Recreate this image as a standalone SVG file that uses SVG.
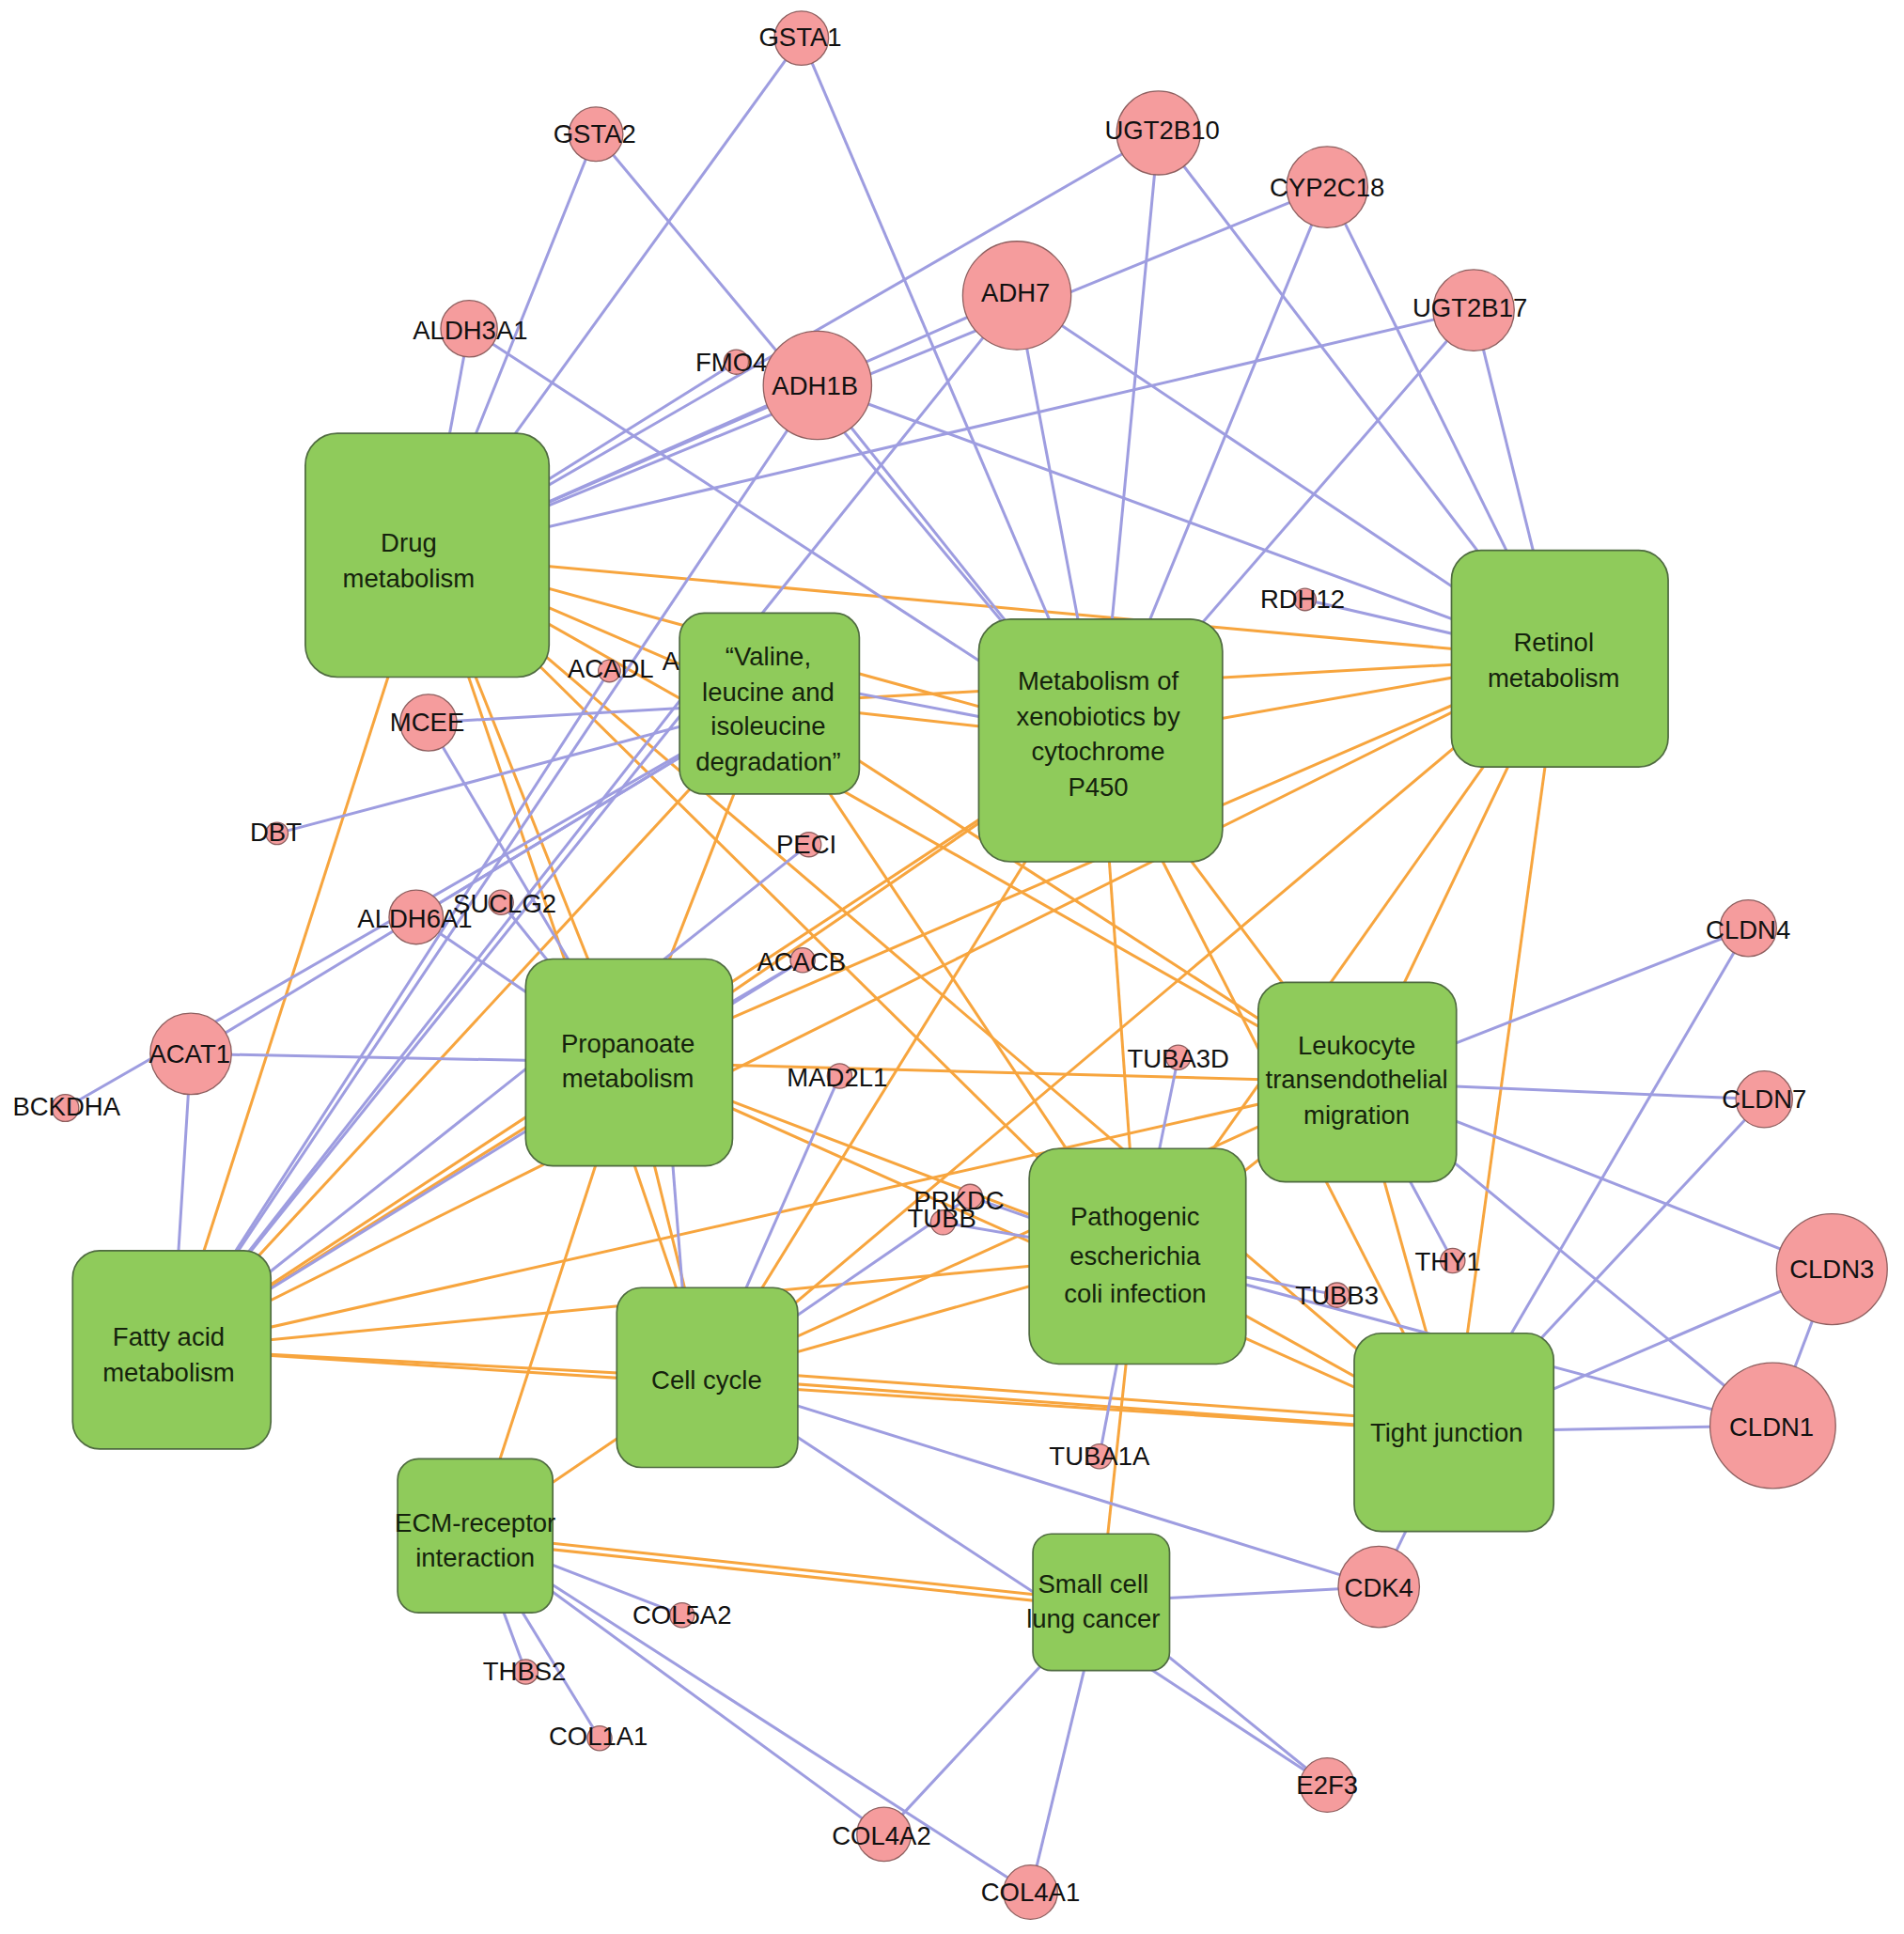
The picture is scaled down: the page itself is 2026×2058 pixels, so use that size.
<svg xmlns="http://www.w3.org/2000/svg" width="2026" height="2058" viewBox="0 0 2026 2058">
<style>
.b{stroke:#9e9de0;stroke-width:2.3;fill:none}
.o{stroke:#f7a53e;stroke-width:2.3;fill:none}
.box{fill:#8fcb5b;stroke:#4f6b40;stroke-width:1.3}
.gene{fill:#f59c9d;stroke:#8e5f5f;stroke-width:1}
.bt{font-family:"Liberation Sans",Arial,sans-serif;font-size:21px;fill:#15230d;text-anchor:middle;dominant-baseline:central}
.gt{font-family:"Liberation Sans",Arial,sans-serif;font-size:21px;fill:#111;text-anchor:middle;dominant-baseline:central}
</style>
<rect width="2026" height="2058" fill="#ffffff"/>
<g transform="scale(1.31)">
<g id="connectors">
<g id="pathway-links">
<line class="o" x1="347" y1="451" x2="1267" y2="535"/>
<line class="o" x1="347" y1="451" x2="894" y2="601"/>
<line class="o" x1="347" y1="451" x2="625" y2="571"/>
<line class="o" x1="347" y1="451" x2="1102" y2="879"/>
<line class="o" x1="347" y1="451" x2="924" y2="1020"/>
<line class="o" x1="347" y1="451" x2="1181" y2="1163"/>
<line class="o" x1="347" y1="451" x2="511" y2="863"/>
<line class="o" x1="347" y1="451" x2="574" y2="1119"/>
<line class="o" x1="347" y1="451" x2="140" y2="1096"/>
<line class="o" x1="625" y1="571" x2="894" y2="601"/>
<line class="o" x1="625" y1="571" x2="1267" y2="535"/>
<line class="o" x1="625" y1="571" x2="511" y2="863"/>
<line class="o" x1="625" y1="571" x2="140" y2="1096"/>
<line class="o" x1="625" y1="571" x2="1102" y2="879"/>
<line class="o" x1="625" y1="571" x2="924" y2="1020"/>
<line class="o" x1="894" y1="601" x2="1267" y2="535"/>
<line class="o" x1="894" y1="601" x2="511" y2="863"/>
<line class="o" x1="894" y1="601" x2="140" y2="1096"/>
<line class="o" x1="894" y1="601" x2="574" y2="1119"/>
<line class="o" x1="894" y1="601" x2="1102" y2="879"/>
<line class="o" x1="894" y1="601" x2="924" y2="1020"/>
<line class="o" x1="894" y1="601" x2="1181" y2="1163"/>
<line class="o" x1="1267" y1="535" x2="511" y2="863"/>
<line class="o" x1="1267" y1="535" x2="140" y2="1096"/>
<line class="o" x1="1267" y1="535" x2="574" y2="1119"/>
<line class="o" x1="1267" y1="535" x2="1102" y2="879"/>
<line class="o" x1="1267" y1="535" x2="924" y2="1020"/>
<line class="o" x1="1267" y1="535" x2="1181" y2="1163"/>
<line class="o" x1="511" y1="863" x2="1102" y2="879"/>
<line class="o" x1="511" y1="863" x2="924" y2="1020"/>
<line class="o" x1="511" y1="863" x2="1181" y2="1163"/>
<line class="o" x1="511" y1="863" x2="574" y2="1119"/>
<line class="o" x1="511" y1="863" x2="140" y2="1096"/>
<line class="o" x1="511" y1="863" x2="386" y2="1247"/>
<line class="o" x1="1102" y1="879" x2="924" y2="1020"/>
<line class="o" x1="1102" y1="879" x2="1181" y2="1163"/>
<line class="o" x1="1102" y1="879" x2="140" y2="1096"/>
<line class="o" x1="1102" y1="879" x2="574" y2="1119"/>
<line class="o" x1="924" y1="1020" x2="1181" y2="1163"/>
<line class="o" x1="924" y1="1020" x2="574" y2="1119"/>
<line class="o" x1="924" y1="1020" x2="140" y2="1096"/>
<line class="o" x1="924" y1="1020" x2="894" y2="1301"/>
<line class="o" x1="140" y1="1096" x2="574" y2="1119"/>
<line class="o" x1="140" y1="1096" x2="1181" y2="1163"/>
<line class="o" x1="574" y1="1119" x2="1181" y2="1163"/>
<line class="o" x1="574" y1="1112" x2="1181" y2="1156"/>
<line class="o" x1="574" y1="1119" x2="386" y2="1247"/>
<line class="o" x1="386" y1="1247" x2="894" y2="1301"/>
<line class="o" x1="386" y1="1252" x2="894" y2="1306"/>
</g>
<g id="gene-links">
<line class="b" x1="651" y1="31" x2="347" y2="451"/>
<line class="b" x1="651" y1="31" x2="894" y2="601"/>
<line class="b" x1="484" y1="109" x2="347" y2="451"/>
<line class="b" x1="484" y1="109" x2="894" y2="601"/>
<line class="b" x1="381" y1="267" x2="347" y2="451"/>
<line class="b" x1="381" y1="267" x2="894" y2="601"/>
<line class="b" x1="598" y1="294" x2="347" y2="451"/>
<line class="b" x1="664" y1="313" x2="347" y2="451"/>
<line class="b" x1="664" y1="313" x2="894" y2="601"/>
<line class="b" x1="664" y1="313" x2="1267" y2="535"/>
<line class="b" x1="664" y1="313" x2="140" y2="1096"/>
<line class="b" x1="826" y1="240" x2="347" y2="451"/>
<line class="b" x1="826" y1="240" x2="894" y2="601"/>
<line class="b" x1="826" y1="240" x2="1267" y2="535"/>
<line class="b" x1="826" y1="240" x2="140" y2="1096"/>
<line class="b" x1="941" y1="108" x2="347" y2="451"/>
<line class="b" x1="941" y1="108" x2="894" y2="601"/>
<line class="b" x1="941" y1="108" x2="1267" y2="535"/>
<line class="b" x1="1078" y1="152" x2="347" y2="451"/>
<line class="b" x1="1078" y1="152" x2="894" y2="601"/>
<line class="b" x1="1078" y1="152" x2="1267" y2="535"/>
<line class="b" x1="1197" y1="252" x2="347" y2="451"/>
<line class="b" x1="1197" y1="252" x2="894" y2="601"/>
<line class="b" x1="1197" y1="252" x2="1267" y2="535"/>
<line class="b" x1="1060" y1="487" x2="1267" y2="535"/>
<line class="b" x1="575" y1="540" x2="894" y2="601"/>
<line class="b" x1="575" y1="540" x2="140" y2="1096"/>
<line class="b" x1="495" y1="545" x2="140" y2="1096"/>
<line class="b" x1="348" y1="587" x2="625" y2="571"/>
<line class="b" x1="348" y1="587" x2="511" y2="863"/>
<line class="b" x1="225" y1="677" x2="625" y2="571"/>
<line class="b" x1="338" y1="745" x2="625" y2="571"/>
<line class="b" x1="338" y1="745" x2="511" y2="863"/>
<line class="b" x1="407" y1="733" x2="511" y2="863"/>
<line class="b" x1="155" y1="856" x2="625" y2="571"/>
<line class="b" x1="155" y1="856" x2="511" y2="863"/>
<line class="b" x1="155" y1="856" x2="140" y2="1096"/>
<line class="b" x1="53" y1="900" x2="625" y2="571"/>
<line class="b" x1="657" y1="686" x2="140" y2="1096"/>
<line class="b" x1="652" y1="780" x2="511" y2="863"/>
<line class="b" x1="652" y1="780" x2="140" y2="1096"/>
<line class="b" x1="540" y1="863" x2="560" y2="1119"/>
<line class="b" x1="682" y1="874" x2="574" y2="1119"/>
<line class="b" x1="788" y1="972" x2="574" y2="1119"/>
<line class="b" x1="788" y1="972" x2="924" y2="1020"/>
<line class="b" x1="766" y1="993" x2="924" y2="1020"/>
<line class="b" x1="957" y1="859" x2="924" y2="1020"/>
<line class="b" x1="1086" y1="1052" x2="924" y2="1020"/>
<line class="b" x1="893" y1="1183" x2="924" y2="1020"/>
<line class="b" x1="1440" y1="1158" x2="924" y2="1020"/>
<line class="b" x1="1440" y1="1158" x2="1102" y2="879"/>
<line class="b" x1="1440" y1="1158" x2="1181" y2="1163"/>
<line class="b" x1="1488" y1="1031" x2="1102" y2="879"/>
<line class="b" x1="1488" y1="1031" x2="1181" y2="1163"/>
<line class="b" x1="1488" y1="1031" x2="1440" y2="1158"/>
<line class="b" x1="1420" y1="754" x2="1102" y2="879"/>
<line class="b" x1="1420" y1="754" x2="1181" y2="1163"/>
<line class="b" x1="1433" y1="893" x2="1102" y2="879"/>
<line class="b" x1="1433" y1="893" x2="1181" y2="1163"/>
<line class="b" x1="1180" y1="1024" x2="1102" y2="879"/>
<line class="b" x1="1120" y1="1289" x2="574" y2="1119"/>
<line class="b" x1="1120" y1="1289" x2="894" y2="1301"/>
<line class="b" x1="1120" y1="1289" x2="1181" y2="1163"/>
<line class="b" x1="1078" y1="1450" x2="574" y2="1119"/>
<line class="b" x1="1078" y1="1450" x2="894" y2="1301"/>
<line class="b" x1="837" y1="1537" x2="894" y2="1301"/>
<line class="b" x1="837" y1="1537" x2="386" y2="1247"/>
<line class="b" x1="718" y1="1490" x2="894" y2="1301"/>
<line class="b" x1="718" y1="1490" x2="386" y2="1247"/>
<line class="b" x1="554" y1="1312" x2="386" y2="1247"/>
<line class="b" x1="427" y1="1358" x2="386" y2="1247"/>
<line class="b" x1="487" y1="1412" x2="386" y2="1247"/>
</g>
</g>
<text class="gt" x="545" y="537">A</text>
<g id="drug-metabolism"><rect class="box" x="248" y="352" width="198" height="198" rx="26"/><text class="bt" x="332" y="441">Drug</text><text class="bt" x="332" y="470">metabolism</text></g>
<g id="valine-degradation"><rect class="box" x="552" y="498" width="146" height="147" rx="20"/><text class="bt" x="624" y="533">“Valine,</text><text class="bt" x="624" y="562">leucine and</text><text class="bt" x="624" y="590">isoleucine</text><text class="bt" x="624" y="619">degradation”</text></g>
<g id="xenobiotics"><rect class="box" x="795" y="503" width="198" height="197" rx="26"/><text class="bt" x="892" y="553">Metabolism of</text><text class="bt" x="892" y="582">xenobiotics by</text><text class="bt" x="892" y="610">cytochrome</text><text class="bt" x="892" y="639">P450</text></g>
<g id="retinol-metabolism"><rect class="box" x="1179" y="447" width="176" height="176" rx="24"/><text class="bt" x="1262" y="522">Retinol</text><text class="bt" x="1262" y="551">metabolism</text></g>
<g id="propanoate-metabolism"><rect class="box" x="427" y="779" width="168" height="168" rx="22"/><text class="bt" x="510" y="848">Propanoate</text><text class="bt" x="510" y="876">metabolism</text></g>
<g id="leukocyte-migration"><rect class="box" x="1022" y="798" width="161" height="162" rx="22"/><text class="bt" x="1102" y="849">Leukocyte</text><text class="bt" x="1102" y="877">transendothelial</text><text class="bt" x="1102" y="906">migration</text></g>
<g id="ecoli-infection"><rect class="box" x="836" y="933" width="176" height="175" rx="24"/><text class="bt" x="922" y="988">Pathogenic</text><text class="bt" x="922" y="1020">escherichia</text><text class="bt" x="922" y="1051">coli infection</text></g>
<g id="fatty-acid-metabolism"><rect class="box" x="59" y="1016" width="161" height="161" rx="22"/><text class="bt" x="137" y="1086">Fatty acid</text><text class="bt" x="137" y="1115">metabolism</text></g>
<g id="cell-cycle"><rect class="box" x="501" y="1046" width="147" height="146" rx="20"/><text class="bt" x="574" y="1121">Cell cycle</text></g>
<g id="tight-junction"><rect class="box" x="1100" y="1083" width="162" height="161" rx="22"/><text class="bt" x="1175" y="1164">Tight junction</text></g>
<g id="ecm-receptor"><rect class="box" x="323" y="1185" width="126" height="125" rx="17"/><text class="bt" x="386" y="1237">ECM-receptor</text><text class="bt" x="386" y="1265">interaction</text></g>
<g id="small-cell-lung-cancer"><rect class="box" x="839" y="1246" width="111" height="111" rx="15"/><text class="bt" x="888" y="1287">Small cell</text><text class="bt" x="888" y="1315">lung cancer</text></g>
<g id="GSTA1"><circle class="gene" cx="651" cy="31" r="22"/><text class="gt" x="650" y="30">GSTA1</text></g>
<g id="GSTA2"><circle class="gene" cx="484" cy="109" r="22"/><text class="gt" x="483" y="109">GSTA2</text></g>
<g id="UGT2B10"><circle class="gene" cx="941" cy="108" r="34"/><text class="gt" x="944" y="106">UGT2B10</text></g>
<g id="CYP2C18"><circle class="gene" cx="1078" cy="152" r="33"/><text class="gt" x="1078" y="152">CYP2C18</text></g>
<g id="ADH7"><circle class="gene" cx="826" cy="240" r="44"/><text class="gt" x="825" y="238">ADH7</text></g>
<g id="UGT2B17"><circle class="gene" cx="1197" cy="252" r="33"/><text class="gt" x="1194" y="250">UGT2B17</text></g>
<g id="ALDH3A1"><circle class="gene" cx="381" cy="267" r="23"/><text class="gt" x="382" y="268">ALDH3A1</text></g>
<g id="FMO4"><circle class="gene" cx="598" cy="294" r="10"/><text class="gt" x="594" y="294">FMO4</text></g>
<g id="ADH1B"><circle class="gene" cx="664" cy="313" r="44"/><text class="gt" x="662" y="313">ADH1B</text></g>
<g id="RDH12"><circle class="gene" cx="1060" cy="487" r="9"/><text class="gt" x="1058" y="487">RDH12</text></g>
<g id="ACADL"><circle class="gene" cx="495" cy="545" r="9"/><text class="gt" x="496" y="543">ACADL</text></g>
<g id="MCEE"><circle class="gene" cx="348" cy="587" r="23"/><text class="gt" x="347" y="587">MCEE</text></g>
<g id="DBT"><circle class="gene" cx="225" cy="677" r="9"/><text class="gt" x="224" y="676">DBT</text></g>
<g id="PECI"><circle class="gene" cx="657" cy="686" r="10"/><text class="gt" x="655" y="686">PECI</text></g>
<g id="ALDH6A1"><circle class="gene" cx="338" cy="745" r="22"/><text class="gt" x="337" y="746">ALDH6A1</text></g>
<g id="SUCLG2"><circle class="gene" cx="407" cy="733" r="10"/><text class="gt" x="410" y="734">SUCLG2</text></g>
<g id="ACACB"><circle class="gene" cx="652" cy="780" r="10"/><text class="gt" x="651" y="781">ACACB</text></g>
<g id="CLDN4"><circle class="gene" cx="1420" cy="754" r="23"/><text class="gt" x="1420" y="755">CLDN4</text></g>
<g id="ACAT1"><circle class="gene" cx="155" cy="856" r="33"/><text class="gt" x="154" y="856">ACAT1</text></g>
<g id="TUBA3D"><circle class="gene" cx="957" cy="859" r="10"/><text class="gt" x="957" y="860">TUBA3D</text></g>
<g id="MAD2L1"><circle class="gene" cx="682" cy="874" r="10"/><text class="gt" x="680" y="875">MAD2L1</text></g>
<g id="BCKDHA"><circle class="gene" cx="53" cy="900" r="11"/><text class="gt" x="54" y="899">BCKDHA</text></g>
<g id="CLDN7"><circle class="gene" cx="1433" cy="893" r="23"/><text class="gt" x="1433" y="893">CLDN7</text></g>
<g id="TUBB"><circle class="gene" cx="766" cy="993" r="10"/><text class="gt" x="765" y="990">TUBB</text></g>
<g id="PRKDC"><circle class="gene" cx="788" cy="972" r="10"/><text class="gt" x="779" y="975">PRKDC</text></g>
<g id="THY1"><circle class="gene" cx="1180" cy="1024" r="10"/><text class="gt" x="1176" y="1025">THY1</text></g>
<g id="CLDN3"><circle class="gene" cx="1488" cy="1031" r="45"/><text class="gt" x="1488" y="1031">CLDN3</text></g>
<g id="TUBB3"><circle class="gene" cx="1086" cy="1052" r="10"/><text class="gt" x="1086" y="1052">TUBB3</text></g>
<g id="CLDN1"><circle class="gene" cx="1440" cy="1158" r="51"/><text class="gt" x="1439" y="1159">CLDN1</text></g>
<g id="TUBA1A"><circle class="gene" cx="893" cy="1183" r="10"/><text class="gt" x="893" y="1183">TUBA1A</text></g>
<g id="CDK4"><circle class="gene" cx="1120" cy="1289" r="33"/><text class="gt" x="1120" y="1290">CDK4</text></g>
<g id="COL5A2"><circle class="gene" cx="554" cy="1312" r="10"/><text class="gt" x="554" y="1312">COL5A2</text></g>
<g id="THBS2"><circle class="gene" cx="427" cy="1358" r="10"/><text class="gt" x="426" y="1358">THBS2</text></g>
<g id="COL1A1"><circle class="gene" cx="487" cy="1412" r="10"/><text class="gt" x="486" y="1410">COL1A1</text></g>
<g id="E2F3"><circle class="gene" cx="1078" cy="1450" r="22"/><text class="gt" x="1078" y="1450">E2F3</text></g>
<g id="COL4A2"><circle class="gene" cx="718" cy="1490" r="22"/><text class="gt" x="716" y="1491">COL4A2</text></g>
<g id="COL4A1"><circle class="gene" cx="837" cy="1537" r="22"/><text class="gt" x="837" y="1537">COL4A1</text></g>
</g>
</svg>
